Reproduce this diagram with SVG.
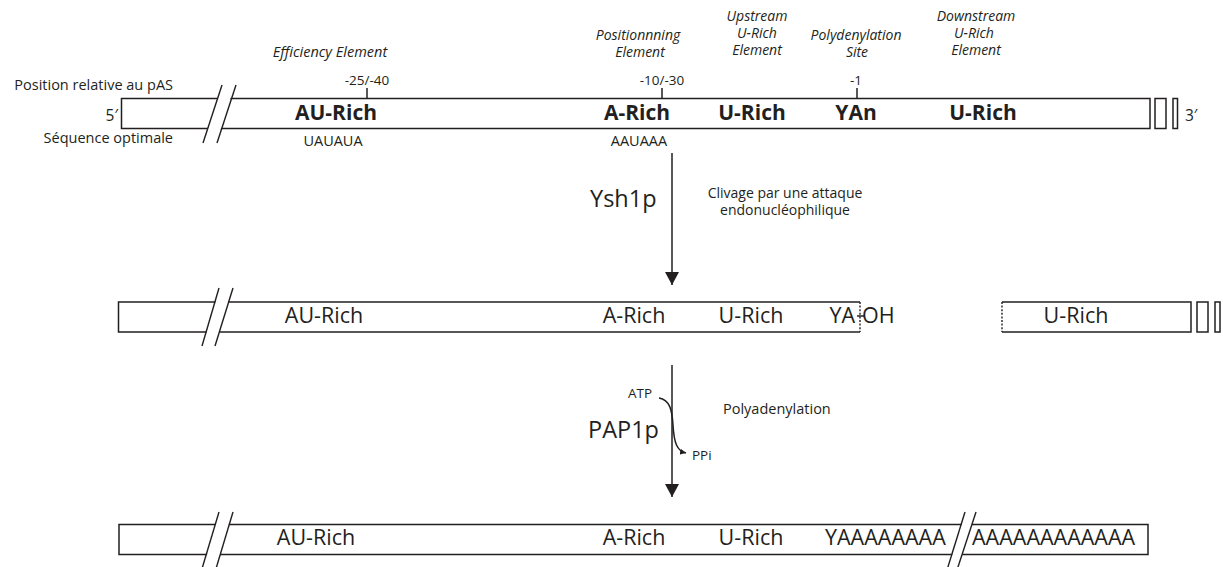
<svg xmlns="http://www.w3.org/2000/svg" width="1223" height="567" viewBox="0 0 1223 567">
<style>
text{font-family:"Open Sans","Noto Sans","Liberation Sans",sans-serif;fill:#231f20}
.box{fill:#fff;stroke:#231f20;stroke-width:1.5}
.ln{fill:none;stroke:#231f20;stroke-width:1.5}
.sl{fill:none;stroke:#231f20;stroke-width:1.4}
.gap{fill:#fff;stroke:none}
.dash{fill:none;stroke:#231f20;stroke-width:1.4;stroke-dasharray:2 1.6}
.it{font-style:italic;font-size:14px}
.sm{font-size:14.5px}
.b{font-weight:bold;font-size:21px}
.r{font-size:21.5px}
.big{font-size:23.5px}
.m{text-anchor:middle}
.e{text-anchor:end}
</style>
<defs>
<marker id="ah" viewBox="0 0 13 14" refX="13" refY="7" markerWidth="13" markerHeight="14" markerUnits="userSpaceOnUse" orient="auto">
<path d="M0,0 L13,7 L0,14 Z" fill="#231f20"/>
</marker>
<marker id="ahs" viewBox="0 0 6 6" refX="6" refY="3" markerWidth="6" markerHeight="6" markerUnits="userSpaceOnUse" orient="auto">
<path d="M0,0 L6,3 L0,6 Z" fill="#231f20"/>
</marker>
</defs>
<rect width="1223" height="567" fill="#fff"/>

<g id="row1">
<rect class="box" x="121.5" y="98.5" width="1028.5" height="30"/>
<polygon class="gap" points="204,141 221,87 234,87 217,141"/>
<line class="sl" x1="203" y1="143" x2="222" y2="85"/>
<line class="sl" x1="217" y1="143" x2="236" y2="85"/>
<rect class="box" x="1155" y="98.5" width="11" height="30"/>
<rect class="box" x="1173" y="98.5" width="4.5" height="30"/>
<text class="sm e" x="173" y="90">Position relative au pAS</text>
<text class="sm e" x="173" y="143">Séquence optimale</text>
<text class="sm e" x="118" y="121" style="font-size:15.5px">5′</text>
<text class="sm" x="1185" y="121" style="font-size:15.5px">3′</text>
<line class="ln" x1="367" y1="88" x2="367" y2="98"/>
<line class="ln" x1="662" y1="88" x2="662" y2="98"/>
<line class="ln" x1="857" y1="88" x2="857" y2="98"/>
<text class="sm m" x="367" y="85" style="font-size:13.5px">-25/-40</text>
<text class="sm m" x="662" y="85" style="font-size:13.5px">-10/-30</text>
<text class="sm m" x="856" y="85" style="font-size:13.5px">-1</text>
<text class="it m" x="330" y="57" style="font-size:14.5px">Efficiency Element</text>
<text class="it m" x="638" y="40">Positionnning</text>
<text class="it m" x="640" y="57">Element</text>
<text class="it m" x="757" y="21">Upstream</text>
<text class="it m" x="757" y="38">U-Rich</text>
<text class="it m" x="757" y="55">Element</text>
<text class="it m" x="856" y="40">Polydenylation</text>
<text class="it m" x="857" y="57">Site</text>
<text class="it m" x="976" y="21">Downstream</text>
<text class="it m" x="974" y="38">U-Rich</text>
<text class="it m" x="976" y="55">Element</text>
<text class="b m" x="336" y="120">AU-Rich</text>
<text class="b m" x="637" y="120">A-Rich</text>
<text class="b m" x="752" y="120">U-Rich</text>
<text class="b m" x="856" y="120">YAn</text>
<text class="b m" x="983" y="120">U-Rich</text>
<text class="sm m" x="333" y="146">UAUAUA</text>
<text class="sm m" x="639" y="146">AAUAAA</text>
</g>

<g id="row2">
<path class="ln" d="M860,302 L118.5,302 L118.5,332 L860,332"/>
<line class="dash" x1="860" y1="302" x2="860" y2="332"/>
<polygon class="gap" points="203,344 219,290 232,290 216,344"/>
<line class="sl" x1="202" y1="346" x2="219" y2="288"/>
<line class="sl" x1="215" y1="346" x2="233" y2="288"/>
<text class="r m" x="324" y="323">AU-Rich</text>
<text class="r m" x="634" y="323">A-Rich</text>
<text class="r m" x="751" y="323">U-Rich</text>
<text class="r e" x="855" y="323">YA</text>
<line class="ln" x1="857" y1="316" x2="864" y2="316"/>
<text class="r" x="862" y="323">OH</text>
</g>

<g id="row2-downstream">
<path class="ln" d="M1002,302 L1191,302 L1191,332 L1002,332"/>
<line class="dash" x1="1002" y1="302" x2="1002" y2="332"/>
<rect class="box" x="1197" y="302" width="11" height="30"/>
<rect class="box" x="1215" y="302" width="5" height="30"/>
<text class="r m" x="1076" y="323">U-Rich</text>
</g>

<g id="row3">
<rect class="box" x="119" y="524.5" width="1029" height="30"/>
<polygon class="gap" points="204,565 219,514 232,514 217,565"/>
<line class="sl" x1="201" y1="572" x2="219" y2="512"/>
<line class="sl" x1="215" y1="572" x2="233" y2="512"/>
<polygon class="gap" points="949,565 965,514 975,514 959,565"/>
<line class="sl" x1="947" y1="570" x2="965" y2="512"/>
<line class="sl" x1="957" y1="570" x2="976" y2="512"/>
<text class="r m" x="316" y="545">AU-Rich</text>
<text class="r m" x="634" y="545">A-Rich</text>
<text class="r m" x="751" y="545">U-Rich</text>
<text class="r" x="825" y="545">YAAAAAAAA</text>
<text class="r" x="972" y="545">AAAAAAAAAAAA</text>
</g>

<g id="step1">
<text class="big" x="590" y="207">Ysh1p</text>
<text class="sm m" x="785" y="198" style="font-size:14px">Clivage par une attaque</text>
<text class="sm m" x="785" y="215" style="font-size:14px">endonucléophilique</text>
</g>

<g id="step2">
<text class="big" x="588" y="438">PAP1p</text>
<text class="sm e" x="652" y="398" style="font-size:13.5px">ATP</text>
<text class="sm" x="692" y="460" style="font-size:13.5px">PPi</text>
<text class="sm" x="723" y="414">Polyadenylation</text>
</g>

<g id="connectors">
<line class="ln" x1="672" y1="153" x2="672" y2="285" marker-end="url(#ah)"/>
<line class="ln" x1="672" y1="365" x2="672" y2="497" marker-end="url(#ah)"/>
<path class="ln" d="M659,398 C670,400 672,410 673,425 C674,443 677,451 686,453" marker-end="url(#ahs)"/>
</g>
</svg>
